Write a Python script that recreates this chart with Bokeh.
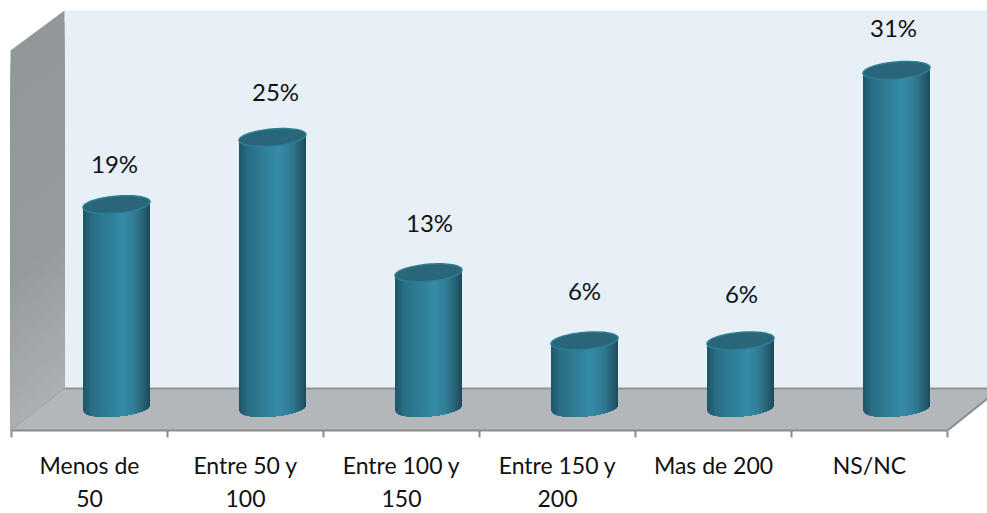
import numpy as np
from bokeh.embed import file_html
from bokeh.resources import INLINE
from bokeh.plotting import figure
from bokeh.models import Range1d, LinearAxis, FixedTicker
from bokeh.core.properties import value

categories = ["Menos de\n50", "Entre 50 y\n100", "Entre 100 y\n150", "Entre 150 y\n200", "Mas de 200", "NS/NC"]
values = [18.8, 25.0, 12.5, 6.2, 6.2, 31.2]
labels = ["19%", "25%", "13%", "6%", "6%", "31%"]

# layout, in page pixels
W, H = 987, 513
LEFT, STEP = 11.0, 156.0
Y0, PX_PER = 407.5, 10.82
FRAME_BOTTOM = 430.0
label_dx = [-2, 3, 1, 0, 1, -3]
label_dy = [41, 46, 50, 50, 47, 43]


def dx(px):
    return (np.asarray(px, dtype=float) - LEFT) / STEP


def dy(py):
    return (Y0 - np.asarray(py, dtype=float)) / PX_PER


def mix(stops, t):
    pos = [s[0] for s in stops]
    r = np.interp(t, pos, [s[1][0] for s in stops])
    g = np.interp(t, pos, [s[1][1] for s in stops])
    b = np.interp(t, pos, [s[1][2] for s in stops])
    return "#%02x%02x%02x" % (int(r), int(g), int(b))


p = figure(width=W, height=H, frame_width=W, frame_height=int(FRAME_BOTTOM),
           output_backend="svg", toolbar_location=None,
           x_range=Range1d(float(dx(0)), float(dx(W))),
           y_range=Range1d(float(dy(FRAME_BOTTOM)), float(dy(0))),
           x_axis_location=None, y_axis_location=None,
           min_border=0, min_border_left=0, min_border_right=0, min_border_top=0, min_border_bottom=0,
           background_fill_color="white", border_fill_color="white", outline_line_color=None)
p.grid.visible = False

# back wall
p.patch(dx([64, 987, 987, 64]), dy([10, 10, 388, 388]), fill_color="#e8f0f7", line_color=None)

# side wall, shaded from top to bottom; each band runs on to the wall's foot so no seams show
wall_stops = [(0, (146, 151, 153)), (0.6, (150, 155, 157)), (1, (172, 176, 178))]
n_wall = 30
for i in range(n_wall):
    a = i / n_wall
    c = mix(wall_stops, a + 0.5 / n_wall)
    p.patch(dx([10, 64, 64, 10]),
            dy([50 + 380 * a, 10 + 378 * a, 388, 430]),
            fill_color=c, line_color=None)

# floor
p.patch(dx([10, 64, 987, 987, 947]), dy([430, 388, 388, 398, 430]), fill_color="#b3b7ba", line_color=None)
p.line(dx([64, 987]), dy([388, 388]), line_color="#8f9395", line_width=2)
p.line(dx([10, 64]), dy([430, 388]), line_color="#a0a4a6", line_width=1)
p.line(dx([947, 987]), dy([430, 398]), line_color="#8c8c8c", line_width=2)

# cylinders; each strip runs on to the right edge so no seams show
body_stops = [(-1.0, (30, 85, 104)), (-0.75, (40, 110, 132)), (-0.2, (48, 128, 153)),
              (0.2, (55, 141, 169)), (0.6, (48, 120, 143)), (0.85, (38, 92, 110)), (1.0, (28, 74, 90))]
half_w, semi, tilt = 33.5, 8.5, 2.8
offset = 27.0
n_strip = 34
th = np.linspace(0, 2 * np.pi, 72)
for i, v in enumerate(values):
    cx = LEFT + STEP * (i + 0.5) + offset
    ytop = Y0 - v * PX_PER
    for k in range(n_strip):
        u0 = -1 + 2 * k / n_strip
        c = mix(body_stops, u0 + 1 / n_strip)
        us = np.linspace(u0, 1, n_strip - k + 1)
        xs = np.concatenate([[cx + u0 * half_w, cx + half_w], cx + us[::-1] * half_w])
        ys = np.concatenate([[ytop - tilt * u0, ytop - tilt],
                             Y0 - tilt * us[::-1] + semi * np.sqrt(np.clip(1 - us[::-1] ** 2, 0, 1))])
        p.patch(dx(xs), dy(ys), fill_color=c, line_color=None)
    ex = cx + half_w * np.cos(th)
    ey = ytop - tilt * np.cos(th) + semi * np.sin(th)
    p.patch(dx(ex), dy(ey), fill_color="#2a6679", line_color="#2f7d95", line_width=1.5)

# value labels
centers = [LEFT + STEP * (i + 0.5) + offset for i in range(len(values))]
lx = [c + d for c, d in zip(centers, label_dx)]
ly = [Y0 - v * PX_PER - d for v, d in zip(values, label_dy)]
p.text(dx(lx), dy(ly), text=labels, text_font=value("Lato"), text_font_size="24px",
       text_color="#111111", text_align="center", text_baseline="middle")

# axis: tick marks at the category boundaries, then the category names at their centres
ticks_axis = LinearAxis(ticker=FixedTicker(ticks=[0, 1, 2, 3, 4, 5, 6]), bounds=(0, 6.0),
                        axis_line_color="#8c8c8c", axis_line_width=2,
                        major_tick_line_color="#8c8c8c", major_tick_line_width=2,
                        major_tick_in=0, major_tick_out=7, minor_tick_line_color=None,
                        major_label_text_font_size="0px", major_label_standoff=0)
ticks_axis.major_label_overrides = {t: "" for t in range(7)}
p.add_layout(ticks_axis, "below")

label_ticks = [i + 0.5 for i in range(len(categories))]
names_axis = LinearAxis(ticker=FixedTicker(ticks=label_ticks),
                        axis_line_color=None, major_tick_line_color=None, minor_tick_line_color=None,
                        major_label_standoff=7,
                        major_label_overrides={t: c for t, c in zip(label_ticks, categories)},
                        major_label_text_font="Lato", major_label_text_font_size="23px",
                        major_label_text_color="#111111", major_label_orientation="horizontal")
p.add_layout(names_axis, "below")

open("out.html", "w").write(file_html(p, INLINE))
